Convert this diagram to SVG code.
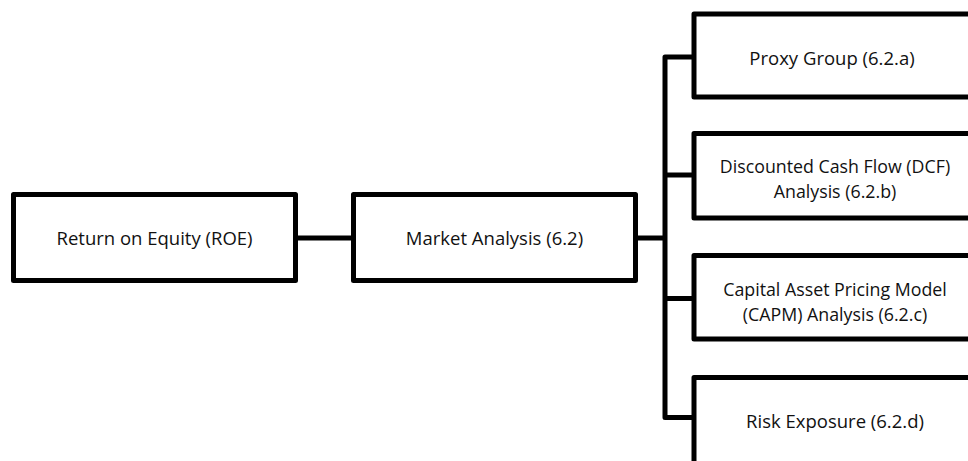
<svg xmlns="http://www.w3.org/2000/svg" width="968" height="461" viewBox="0 0 968 461">
<style>
.box{fill:#fff;stroke:#000;stroke-width:5;stroke-linejoin:round}
.lbl{font-family:"Open Sans","Noto Sans",sans-serif;font-size:18.5px;fill:#111;text-anchor:middle}
.lbl2{font-size:17.8px}
.conn{fill:none;stroke:#000;stroke-width:5;stroke-linejoin:round}
</style>
<rect width="968" height="461" fill="#fff"/>
<g id="connectors">
<path class="conn" d="M295.5 238H353.5"/>
<path class="conn" d="M635.5 238H665"/>
<path class="conn" d="M694 57H665V417.5H694"/>
<path class="conn" d="M665 175H694"/>
<path class="conn" d="M665 298.5H694"/>
</g>
<g id="roe">
<rect class="box" x="13.5" y="194.5" width="282" height="86"/>
<text class="lbl" x="154.5" y="245">Return on Equity (ROE)</text>
</g>
<g id="market">
<rect class="box" x="353.5" y="194.5" width="282" height="86"/>
<text class="lbl" x="494.5" y="245">Market Analysis (6.2)</text>
</g>
<g id="proxy">
<rect class="box" x="694" y="14" width="280" height="83"/>
<text class="lbl" x="832" y="65">Proxy Group (6.2.a)</text>
</g>
<g id="dcf">
<rect class="box" x="694" y="133.5" width="280" height="84.5"/>
<text class="lbl lbl2" x="835" y="173"><tspan x="835">Discounted Cash Flow (DCF)</tspan><tspan x="835" dy="24.5">Analysis (6.2.b)</tspan></text>
</g>
<g id="capm">
<rect class="box" x="694" y="255.5" width="280" height="83.5"/>
<text class="lbl lbl2" x="835" y="296"><tspan x="835">Capital Asset Pricing Model</tspan><tspan x="835" dy="24.5">(CAPM) Analysis (6.2.c)</tspan></text>
</g>
<g id="risk">
<rect class="box" x="694" y="377.5" width="280" height="90"/>
<text class="lbl" x="835" y="428">Risk Exposure (6.2.d)</text>
</g>
</svg>
